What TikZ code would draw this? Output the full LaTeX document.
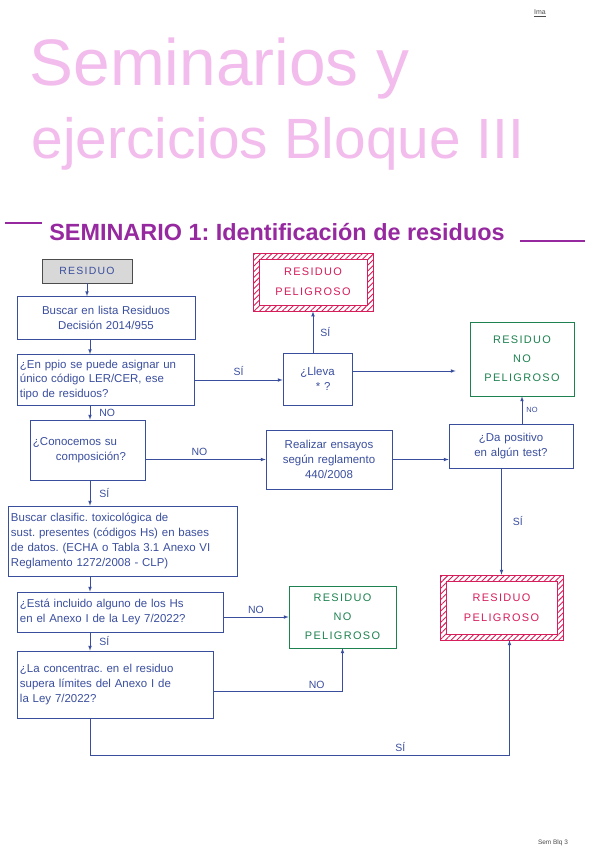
\documentclass[tikz,border=0pt]{standalone}
\usepackage{fontspec}
\setmainfont{Liberation Sans}
\newfontfamily\capsfont[LetterSpace=12]{Liberation Sans}
\usetikzlibrary{positioning}
\usetikzlibrary{arrows.meta}
\usetikzlibrary{calc}
\usetikzlibrary{patterns.meta}

\definecolor{ink}{RGB}{58,78,158}
\definecolor{dred}{RGB}{214,30,90}
\definecolor{dgreen}{RGB}{30,130,80}
\definecolor{pinkt}{RGB}{242,188,236}
\definecolor{purp}{RGB}{150,40,160}
\definecolor{boxgray}{RGB}{216,216,216}

\begin{document}
\frenchspacing
\begin{tikzpicture}[x=1bp, y=-1bp, line width=0.7bp,
    block/.style={align=left, rectangle, draw=ink, text=ink, inner sep=3bp, font=\fontsize{11.5}{15}\selectfont},
    startbox/.style={rectangle, draw=black!70, fill=boxgray, text=ink, font=\capsfont\fontsize{10.5}{12}\selectfont, minimum width=90bp, minimum height=24bp},
    safebox/.style={align=center, rectangle, draw=dgreen, text=dgreen, font=\capsfont\fontsize{11}{19}\selectfont},
    riskbox/.style={align=center, rectangle, draw=dred, text=dred, font=\capsfont\fontsize{11}{20}\selectfont,
        pattern={Lines[angle=45, distance=4bp, line width=0.9bp]}, pattern color=dred,
        path picture={\draw[dred, fill=white] ([shift={(6bp,-6bp)}]path picture bounding box.north west) rectangle ([shift={(-6bp,6bp)}]path picture bounding box.south east);}},
    lbl/.style={text=ink, font=\fontsize{10.5}{11}\selectfont, inner sep=1bp},
]
    \useasboundingbox (0,0) rectangle (600,848);

    % titles
    \node[text=pinkt, font=\fontsize{66}{66}\selectfont, anchor=base west] (title1) at (26,85) {Seminarios y};
    \node[text=pinkt, font=\fontsize{57}{57}\selectfont, anchor=base west] (title2) at (28,158) {ejercicios Bloque III};
    \node[text=black!70, font=\fontsize{7}{8}\selectfont] (ima) at (540,13) {\underline{Ima}};
    \node[text=purp, font=\bfseries\fontsize{23.5}{26}\selectfont] (sem) at (277,232) {SEMINARIO 1: Identificación de residuos};
    \coordinate (hl) at (5,223);
    \coordinate (hr) at (585,241);
    \draw[purp, line width=2bp] (hl) -- ($(sem.west |- hl)+(-4,0)$);
    \draw[purp, line width=2bp] (hr) -- ($(sem.east |- hr)+(12,0)$);

    % left column
    \node[startbox] (res) at (87,271) {RESIDUO};
    \node[block, align=center, text width=172bp, minimum height=43bp] (buscar) at (106,318) {Buscar en lista Residuos\\Decisión 2014/955};
    \node[block, text width=171bp, minimum height=51bp] (ppio) at (105.5,380) {¿En ppio se puede asignar un\\único código LER/CER, ese\\tipo de residuos?};
    \node[block, text width=109bp, minimum height=60bp] (conoc) at (87.5,450) {¿Conocemos su\\\qquad composición?};
    \node[block, text width=223bp, minimum height=70bp] (clasif) at (122.5,541) {Buscar clasific. toxicológica de\\sust. presentes (códigos Hs) en bases\\de datos. (ECHA o Tabla 3.1 Anexo VI\\Reglamento 1272/2008 - CLP)};
    \node[block, text width=200bp, minimum height=40bp] (incl) at (120,612) {¿Está incluido alguno de los Hs\\en el Anexo I de la Ley 7/2022?};
    \node[block, text width=190bp, minimum height=67bp] (conc) at (115,684.5) {¿La concentrac. en el residuo\\supera límites del Anexo I de\\la Ley 7/2022?};

    % middle and right
    \node[block, align=center, text width=63bp, minimum height=52bp] (lleva) at (317.5,379) {¿Lleva\\\quad * ?};
    \node[riskbox, minimum width=120bp, minimum height=58bp] (rp1) at (313,282) {RESIDUO\\PELIGROSO};
    \node[safebox, minimum width=104bp, minimum height=74bp] (np1) at (522,359) {RESIDUO\\NO\\PELIGROSO};
    \node[block, align=center, text width=120bp, minimum height=59bp] (realizar) at (329,459.5) {Realizar ensayos\\según reglamento\\440/2008};
    \node[block, align=center, text width=118bp, minimum height=44bp] (dapos) at (511,446) {¿Da positivo\\en algún test?};
    \node[safebox, minimum width=107bp, minimum height=62bp] (np2) at (342.5,617) {RESIDUO\\NO\\PELIGROSO};
    \node[riskbox, minimum width=123bp, minimum height=65bp] (rp2) at (501.5,607.5) {RESIDUO\\PELIGROSO};

    \coordinate (turn) at (90,755);

    % connectors
    \draw[ink, -latex] (res.south) -- (res.south |- buscar.north);
    \draw[ink, -latex] (buscar.south -| turn) -- (ppio.north -| turn);
    \draw[ink, -latex] (ppio.east) -- (ppio.east -| lleva.west) node[lbl, midway, above=3bp] (l1) {SÍ};
    \draw[ink, -latex] (lleva.north -| rp1.south) -- (rp1.south) node[lbl, midway, right=6bp] (l2) {SÍ};
    \draw[ink, -latex] ($(lleva.east)+(0,-8)$) -- ($(lleva.east -| np1.west)+(-14,-8)$);
    \draw[ink, -latex] (ppio.south -| turn) -- (conoc.north -| turn) node[lbl, midway, right=8bp] (l3) {NO};
    \draw[ink, -latex] (realizar.west -| conoc.east) -- (realizar.west) node[lbl, pos=0.45, above=3bp] (l4) {NO};
    \draw[ink, -latex] (realizar.east) -- (realizar.east -| dapos.west);
    \draw[ink, -latex] (dapos.north -| np1.south) -- (np1.south) node[lbl, midway, right=3bp, font=\fontsize{7.5}{8}\selectfont] (l5) {NO};
    \draw[ink, -latex] (dapos.south -| rp2.north) -- (rp2.north) node[lbl, midway, right=10bp] (l6) {SÍ};
    \draw[ink, -latex] (conoc.south -| turn) -- (clasif.north -| turn) node[lbl, midway, right=8bp] (l7) {SÍ};
    \draw[ink, -latex] (clasif.south -| turn) -- (incl.north -| turn);
    \draw[ink, -latex] (np2.west -| incl.east) -- (np2.west) node[lbl, midway, above=2bp] (l8) {NO};
    \draw[ink, -latex] (incl.south -| turn) -- (conc.north -| turn) node[lbl, midway, right=8bp] (l9) {SÍ};
    \draw[ink, -latex] ($(conc.east)+(0,7)$) -| (np2.south) node[lbl, pos=0.4, above=2bp] (l10) {NO};
    \draw[ink, -latex] (conc.south -| turn) -- (turn) -| ($(rp2.south)+(8,0)$) node[lbl, pos=0.37, above=2bp] (l11) {SÍ};

    \node[text=black!70, font=\fontsize{6.5}{7}\selectfont] (foot) at (553,843) {Sem Blq 3};
\end{tikzpicture}
\end{document}
